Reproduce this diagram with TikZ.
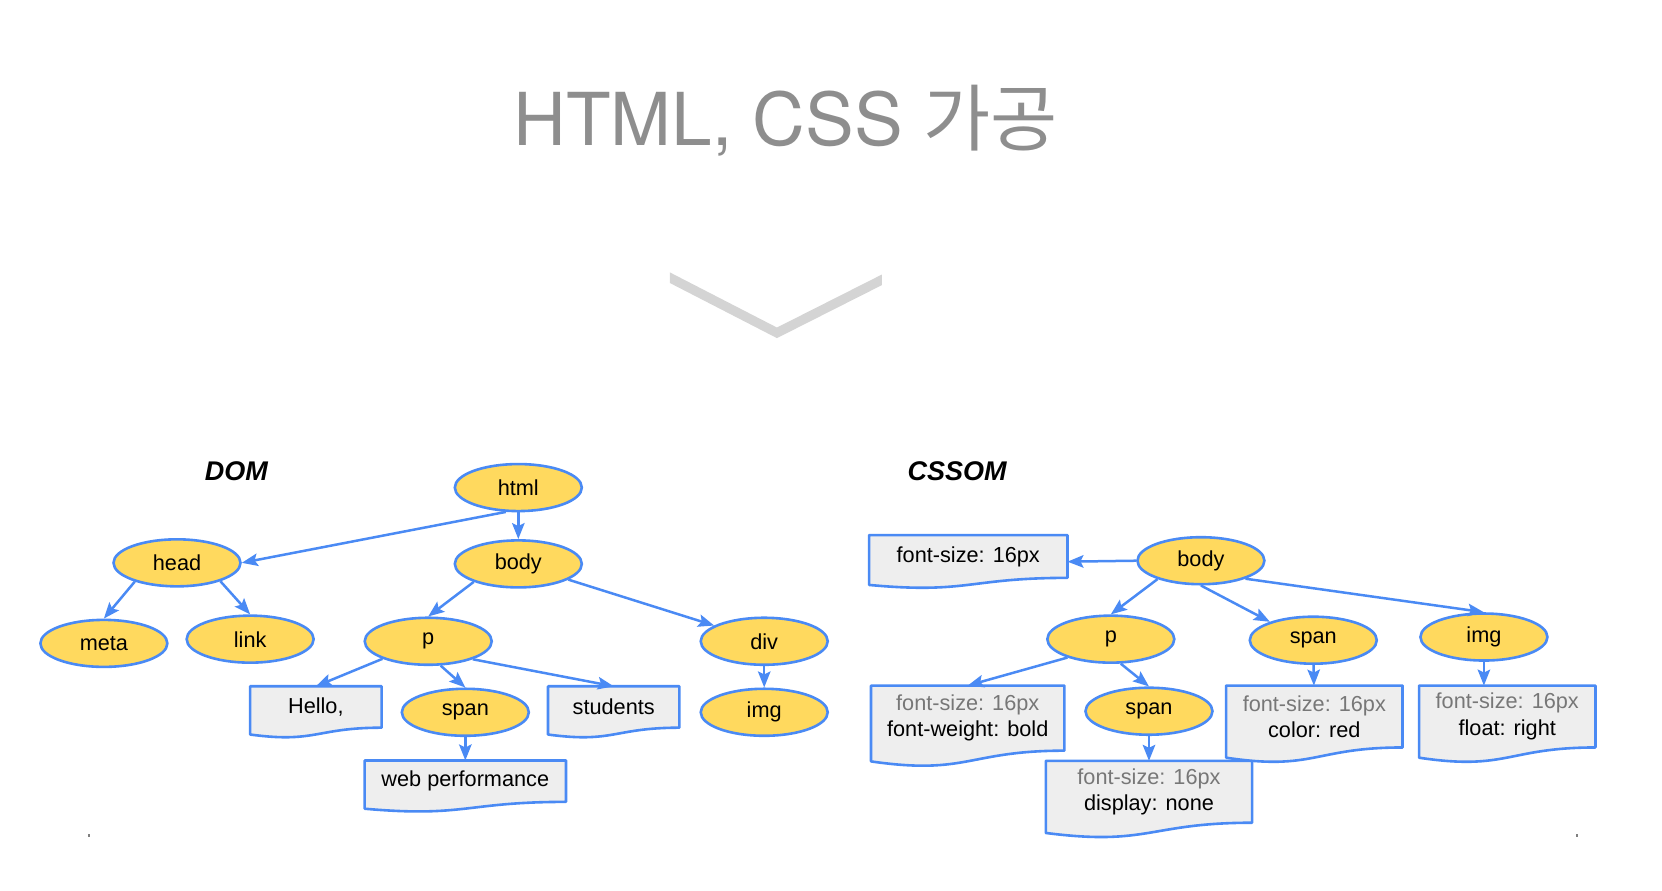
\documentclass[tikz,border=0pt]{standalone}
\usepackage{fontspec}
\setmainfont{Liberation Sans}
\newfontfamily\titlefont{TeX Gyre Heros}
\newfontfamily\krfont{Noto Sans CJK KR}
\usetikzlibrary{shapes.geometric,arrows.meta,calc,backgrounds}
\definecolor{gblue}{HTML}{4A8AF4}
\definecolor{gyellow}{HTML}{FFD95E}
\definecolor{gfill}{HTML}{EEEEEE}
\definecolor{gtext}{HTML}{777777}
\definecolor{gtitle}{HTML}{8E8E8E}
\definecolor{gchevron}{HTML}{D4D4D4}

\begin{document}
\begin{tikzpicture}[x=1.06pt,y=-1.06pt,every node/.style={font=\fontsize{21.7}{26.5}\selectfont,align=center},
    tag/.style={shape=ellipse,draw=gblue,line width=2.6pt,fill=gyellow,minimum width=127pt,minimum height=47pt,inner sep=0pt},
    doc/.style={shape=rectangle,minimum width=#1,inner sep=0pt},
    arr/.style={draw=gblue,line width=2.5pt,-{Stealth[length=16pt,width=12.5pt,inset=3pt]}},
    docline/.style={draw=gblue,line width=2.6pt,fill=gfill,line join=round}]
    \useasboundingbox (0,0) rectangle (1568,839.7);
    \node[anchor=base,text=gtitle,font=\titlefont\fontsize{73}{73}\selectfont] (title) at (741,137) {HTML, CSS {\krfont 가공}};
    \fill[gchevron] (632,257) -- (733,309) -- (832,259) -- (832,269) -- (733,319) -- (632,267) -- cycle;
    \node[font=\bfseries\itshape\fontsize{27}{32}\selectfont] (domlabel) at (223,445) {DOM};
    \node[font=\bfseries\itshape\fontsize{27}{32}\selectfont] (cssomlabel) at (903,445) {CSSOM};
    \fill[gray] (83,787) rectangle (85,790);
    \fill[gray] (1487,787) rectangle (1489,790);
    % DOM
    \node[tag] (html) at (489,460) {html};
    \node[tag] (head) at (167,531) {head};
    \node[tag] (body) at (489,532) {body};
    \node[tag] (meta) at (98,607) {meta};
    \node[tag] (link) at (236,603) {link};
    \node[tag] (p) at (404,605) {p};
    \node[tag] (div) at (721,605) {div};
    \node[tag] (span) at (439,672) {span};
    \node[tag] (img) at (721,672) {img};
    \node[doc=131pt,minimum height=41pt] (hello) at (298,667) {Hello,};
    \node[doc=131pt,minimum height=41pt] (students) at (579,667) {students};
    \node[doc=201pt,minimum height=41pt] (webperf) at (439,737) {web performance};
    % CSSOM
    \node[tag] (cbody) at (1133,529) {body};
    \node[tag] (cp) at (1048,603) {p};
    \node[tag] (cspantwo) at (1239,604) {span};
    \node[tag] (cimg) at (1400,601) {img};
    \node[tag] (cspan) at (1084,671) {span};
    \node[doc=198pt,minimum height=42.4pt] (cfs) at (913.5,525) {font-size: 16px};
    \node[doc=193pt,minimum height=64.7pt] (cprule) at (913,677.5) {\textcolor{gtext}{font-size: 16px}\\font-weight: bold};
    \node[doc=206pt,minimum height=61.5pt] (cspanrule) at (1084,747) {\textcolor{gtext}{font-size: 16px}\\display: none};
    \node[doc=176pt,minimum height=61.5pt] (cspantworule) at (1240,676) {\textcolor{gtext}{font-size: 16px}\\color: red};
    \node[doc=176pt,minimum height=61.5pt] (cimgrule) at (1422,676) {\textcolor{gtext}{font-size: 16px}\\float: right};
    \begin{scope}[on background layer]
        \foreach \d in {hello,students,webperf,cfs,cprule,cspanrule,cspantworule,cimgrule}
            \draw[docline] (\d.north west) -- (\d.north east) -- (\d.south east) .. controls (\d.south) and ($(\d.south)!-.38!(\d.north)$) .. ($(\d.south west)!-.165!(\d.north west)$) -- cycle;
    \end{scope}
    \draw[arr] (html.243) -- (head.east);
    \draw[arr] (html) -- (body);
    \draw[arr] (head.204) -- (meta.north);
    \draw[arr] (head.337) -- (link.north);
    \draw[arr] (body.202) -- (p.north);
    \draw[arr] (body) -- (div);
    \draw[arr] (p.201) -- (hello.north);
    \draw[arr] (p.297) -- (span.north);
    \draw[arr] (p.338) -- (students.north);
    \draw[arr] (span) -- (webperf);
    \draw[arr] (div) -- (img);
    \draw[arr] (cbody.west) -- (cfs.-3);
    \draw[arr] (cbody.203) -- (cp.north);
    \draw[arr] (cbody.south) -- (cspantwo.157);
    \draw[arr] (cbody.338) -- (cimg.north);
    \draw[arr] (cp.203) -- (cprule.north);
    \draw[arr] (cp.292) -- (cspan.north);
    \draw[arr] (cspan) -- (cspanrule);
    \draw[arr] (cspantwo) -- (cspantworule);
    \draw[arr] (cimg.south) -- (cimg.south |- cimgrule.north);
\end{tikzpicture}
\end{document}
